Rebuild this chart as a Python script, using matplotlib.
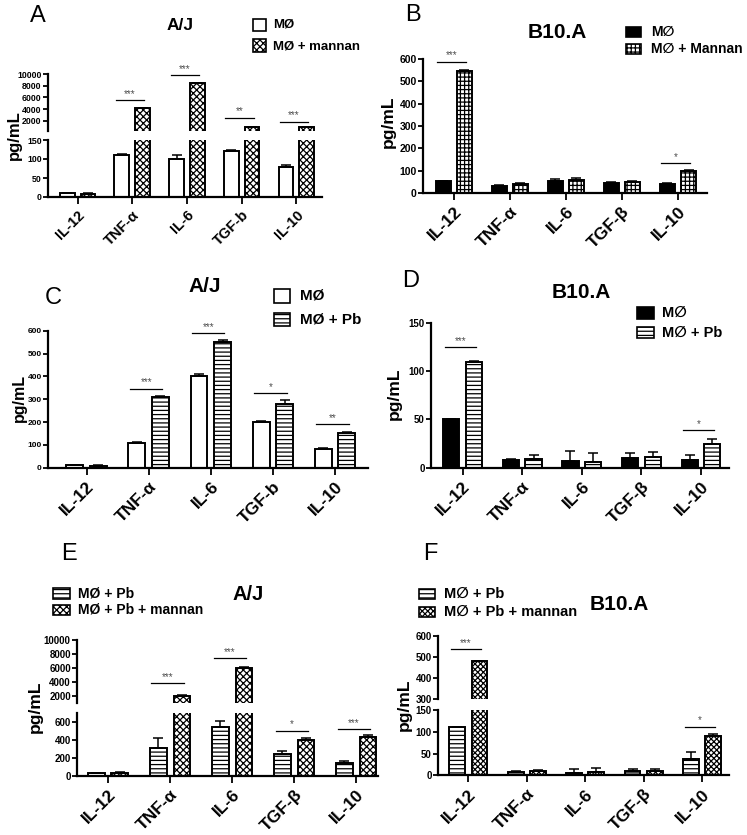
import numpy as np
import matplotlib
matplotlib.use("Agg")
import matplotlib.pyplot as plt
from matplotlib.patches import Rectangle

plt.rcParams['font.family'] = ['Liberation Sans', 'DejaVu Sans']
plt.rcParams['hatch.linewidth'] = 0.9

# ---- data ----
cats_b = ['IL-12', 'TNF-α', 'IL-6', 'TGF-b', 'IL-10']
cats_beta = ['IL-12', 'TNF-α', 'IL-6', 'TGF-β', 'IL-10']

# A: A/J, MØ vs MØ + mannan
a_mo = [10, 110, 100, 120, 80]
a_mo_err = [1, 2, 10, 5, 5]
a_man = [8, 4100, 8500, 970, 970]
a_man_err = [2, 0, 0, 0, 0]
a_sig = [(1, 5500, '***'), (2, 9800, '***'), (3, 2500, '**'), (4, 1800, '***')]

# B: B10.A, MØ vs MØ + Mannan
b_mo = [52, 33, 55, 45, 40]
b_mo_err = [2, 2, 8, 3, 4]
b_man = [548, 42, 60, 50, 100]
b_man_err = [3, 3, 6, 3, 4]
b_sig = [(0, 588, '***'), (4, 133, '*')]

# C: A/J, MØ vs MØ + Pb
c_mo = [10, 110, 400, 200, 80]
c_mo_err = [1, 2, 10, 5, 5]
c_pb = [8, 310, 550, 280, 150]
c_pb_err = [2, 5, 8, 15, 5]
c_sig = [(1, 345, '***'), (2, 589, '***'), (3, 326, '*'), (4, 190, '**')]

# D: B10.A, MØ vs MØ + Pb
d_mo = [50, 8, 7, 10, 8]
d_mo_err = [0.5, 1, 10, 5, 5]
d_pb = [110, 9, 6, 11, 25]
d_pb_err = [0.5, 4, 9, 5, 5]
d_sig = [(0, 125, '***'), (4, 39, '*')]

# E: A/J, MØ + Pb vs MØ + Pb + mannan
e_pb = [30, 310, 550, 250, 150]
e_pb_err = [5, 110, 60, 30, 20]
e_man = [35, 2000, 6000, 400, 430]
e_man_err = [5, 100, 200, 25, 30]
e_sig = [(1, 3800, '***'), (2, 7400, '***'), (3, 505, '*'), (4, 525, '***')]

# F: B10.A, MØ + Pb vs MØ + Pb + mannan
f_pb = [110, 8, 5, 10, 38]
f_pb_err = [1, 1, 10, 4, 15]
f_man = [480, 10, 8, 10, 90]
f_man_err = [1, 2, 8, 4, 4]
f_sig = [(0, 537, '***'), (4, 112, '*')]

W, H = 747, 835
fig = plt.figure(figsize=(W / 100, H / 100), dpi=100)


def px_axes(l, r, t, b):
    return fig.add_axes([l / W, 1 - b / H, (r - l) / W, (b - t) / H])


def style_axes(ax, xlim, cats=None, top=False, ysize=7, xsize=12.5):
    ax.set_xlim(*xlim)
    ax.set_facecolor('none')
    for s in ['top', 'right']:
        ax.spines[s].set_visible(False)
    ax.spines['left'].set_linewidth(1.6)
    ax.spines['bottom'].set_linewidth(1.6)
    ax.tick_params(axis='y', direction='out', length=3.5, width=1.3, labelsize=ysize, pad=1)
    for lab in ax.get_yticklabels():
        lab.set_fontweight('bold')
    if top:
        ax.spines['bottom'].set_visible(False)
        ax.set_xticks([])
    else:
        ax.set_xticks(np.arange(5))
        ax.set_xticklabels(cats, rotation=45, ha='right', rotation_mode='anchor',
                           fontsize=xsize, fontweight='bold')
        ax.tick_params(axis='x', direction='out', length=5, width=1.3, pad=3)


def draw_bars(ax, v1, e1, v2, e2, st1, st2, lo=-1):
    x = np.arange(5)
    for off, v, e, st in ((-0.19, v1, e1, st1), (0.19, v2, e2, st2)):
        v = np.array(v, float)
        up = np.where(v > lo, e, np.nan)
        down = np.where(v > lo, 0, np.nan)
        ax.bar(x + off, v, 0.27, yerr=[down, up], capsize=3.5,
               error_kw=dict(lw=1.1, capthick=1.1), edgecolor='k', linewidth=1.4, **st)


def sig(ax, x, y, s):
    ax.plot([x - 0.3, x + 0.22], [y, y], color='k', lw=0.9, clip_on=False)
    ax.annotate(s, (x - 0.04, y), xytext=(0, 1), textcoords='offset points',
                ha='center', va='bottom', fontsize=7, color='0.3', annotation_clip=False)


def legend_item(l, t, r, b, text, tx, ty, st, fs=10):
    fig.add_artist(Rectangle((l / W, 1 - b / H), (r - l) / W, (b - t) / H,
                             transform=fig.transFigure, edgecolor='k', lw=1.2, **st))
    fig.text(tx / W, 1 - ty / H, text, ha='left', va='center', fontsize=fs, fontweight='bold')


def ftext(x, y, s, **kw):
    fig.text(x / W, 1 - y / H, s, ha='center', va='center', **kw)


white = dict(facecolor='white')
black = dict(facecolor='black')
check = dict(facecolor='white', hatch='xxxxx')
grid = dict(facecolor='white', hatch='++++')
stripe = dict(facecolor='white', hatch='----')
fine = dict(facecolor='white', hatch='xxxxxx')

# ---- Panel A ----
axA_top = px_axes(48, 322, 74, 130.7)
axA_bot = px_axes(48, 322, 140, 197)
draw_bars(axA_top, a_mo, a_mo_err, a_man, a_man_err, white, check, lo=300)
draw_bars(axA_bot, a_mo, a_mo_err, a_man, a_man_err, white, check)
axA_top.set_ylim(300, 10000)
axA_top.set_yticks([2000, 4000, 6000, 8000, 10000])
axA_bot.set_ylim(0, 150)
axA_bot.set_yticks([0, 50, 100, 150])
style_axes(axA_top, (-0.54, 4.47), top=True, ysize=6.3)
style_axes(axA_bot, (-0.54, 4.47), cats_b, ysize=6.3, xsize=10.5)
for x, y, s in a_sig:
    sig(axA_top, x, y, s)
ftext(38, 16, 'A', fontsize=17)
ftext(180, 25, 'A/J', fontsize=12.5, fontweight='bold')
ftext(14, 135, 'pg/mL', fontsize=12, fontweight='bold', rotation=90)
legend_item(253, 19, 266, 31, 'MØ', 273, 25, white, 9.5)
legend_item(253, 39, 266, 52, 'MØ + mannan', 273, 46, check, 9.5)

# ---- Panel B ----
axB = px_axes(423, 707, 59, 193)
draw_bars(axB, b_mo, b_mo_err, b_man, b_man_err, black, grid)
axB.set_ylim(0, 600)
axB.set_yticks(np.arange(0, 601, 100))
style_axes(axB, (-0.55, 4.52), cats_beta, ysize=7.5)
for x, y, s in b_sig:
    sig(axB, x, y, s)
ftext(413, 15, 'B', fontsize=17)
ftext(557, 32, 'B10.A', fontsize=15, fontweight='bold')
ftext(388, 122, 'pg/mL', fontsize=12.5, fontweight='bold', rotation=90)
legend_item(626, 27, 641, 37, 'M∅', 651, 32, black)
legend_item(626, 44, 641, 54, 'M∅ + Mannan', 651, 49, grid)

# ---- Panel C ----
axC = px_axes(48, 368, 330.7, 467.7)
draw_bars(axC, c_mo, c_mo_err, c_pb, c_pb_err, white, stripe)
axC.set_ylim(0, 600)
axC.set_yticks(np.arange(0, 601, 100))
style_axes(axC, (-0.62, 4.53), cats_b, ysize=6)
for x, y, s in c_sig:
    sig(axC, x, y, s)
ftext(53, 298, 'C', fontsize=17)
ftext(205, 287, 'A/J', fontsize=15, fontweight='bold')
ftext(19, 398, 'pg/mL', fontsize=11.5, fontweight='bold', rotation=90)
legend_item(274, 289, 290, 303, 'MØ', 300, 296, white, 11)
legend_item(274, 313, 290, 326, 'MØ + Pb', 300, 319, stripe, 11)

# ---- Panel D ----
axD = px_axes(431, 729, 323, 467.7)
draw_bars(axD, d_mo, d_mo_err, d_pb, d_pb_err, black, stripe)
axD.set_ylim(0, 150)
axD.set_yticks([0, 50, 100, 150])
style_axes(axD, (-0.53, 4.47), cats_beta)
for x, y, s in d_sig:
    sig(axD, x, y, s)
ftext(411, 281, 'D', fontsize=17)
ftext(581, 292, 'B10.A', fontsize=15, fontweight='bold')
ftext(394, 394, 'pg/mL', fontsize=12.5, fontweight='bold', rotation=90)
legend_item(637, 307, 654, 319, 'M∅', 662, 313, black, 10.5)
legend_item(637, 327, 654, 338, 'M∅ + Pb', 662, 333, stripe, 10.5)

# ---- Panel E ----
axE_top = px_axes(77, 378, 640, 703)
axE_bot = px_axes(77, 378, 713.3, 776)
draw_bars(axE_top, e_pb, e_pb_err, e_man, e_man_err, stripe, check, lo=1000)
draw_bars(axE_bot, e_pb, e_pb_err, e_man, e_man_err, stripe, check)
axE_top.set_ylim(1000, 10000)
axE_top.set_yticks([2000, 4000, 6000, 8000, 10000])
axE_bot.set_ylim(0, 700)
axE_bot.set_yticks([0, 200, 400, 600])
style_axes(axE_top, (-0.5, 4.35), top=True)
style_axes(axE_bot, (-0.5, 4.35), cats_beta)
for x, y, s in e_sig:
    sig(axE_top if y > 1000 else axE_bot, x, y, s)
ftext(69, 554, 'E', fontsize=17)
ftext(248, 595, 'A/J', fontsize=14.5, fontweight='bold')
ftext(35, 707, 'pg/mL', fontsize=12.5, fontweight='bold', rotation=90)
legend_item(53, 588, 70, 599, 'MØ + Pb', 78, 593, stripe)
legend_item(53, 605, 70, 615, 'MØ + Pb + mannan', 78, 610, check)

# ---- Panel F ----
axF_top = px_axes(438, 729, 635.7, 699)
axF_bot = px_axes(438, 729, 710, 775.3)
draw_bars(axF_top, f_pb, f_pb_err, f_man, f_man_err, stripe, fine, lo=300)
draw_bars(axF_bot, f_pb, f_pb_err, f_man, f_man_err, stripe, fine)
axF_top.set_ylim(300, 600)
axF_top.set_yticks([300, 400, 500, 600])
axF_bot.set_ylim(0, 150)
axF_bot.set_yticks([0, 50, 100, 150])
style_axes(axF_top, (-0.52, 4.46), top=True)
style_axes(axF_bot, (-0.52, 4.46), cats_beta)
for x, y, s in f_sig:
    sig(axF_top if y > 300 else axF_bot, x, y, s)
ftext(430, 554, 'F', fontsize=17)
ftext(619, 605, 'B10.A', fontsize=15, fontweight='bold')
ftext(404, 705, 'pg/mL', fontsize=12.5, fontweight='bold', rotation=90)
legend_item(419, 589, 435, 599, 'M∅ + Pb', 444, 594, stripe, 10.5)
legend_item(419, 607, 435, 617, 'M∅ + Pb + mannan', 444, 612, fine, 10.5)

fig.savefig('out.png', dpi=100)
